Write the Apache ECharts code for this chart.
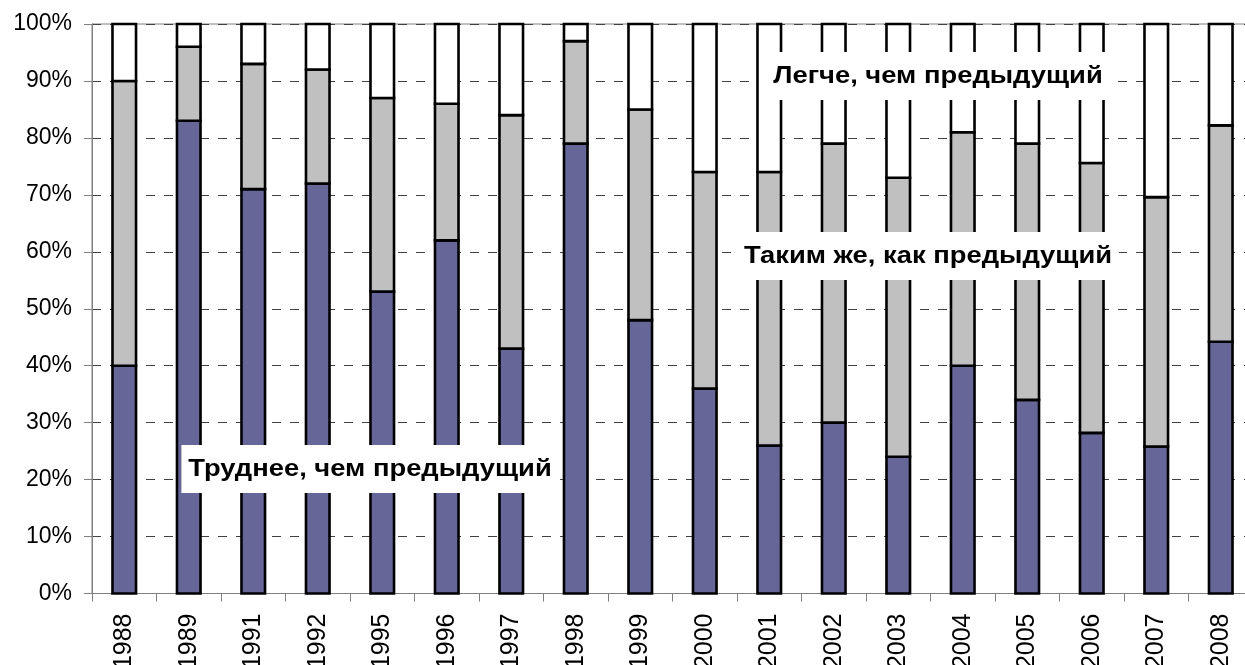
<!DOCTYPE html>
<html>
<head>
<meta charset="utf-8">
<script src="https://cdn.jsdelivr.net/npm/echarts@6/dist/echarts.min.js"></script>
<style>
  html, body { margin: 0; padding: 0; background: #fff; }
  #chart { width: 1245px; height: 665px; }
</style>
</head>
<body>
<div id="chart"></div>
<script>
const years = ['1988','1989','1991','1992','1995','1996','1997','1998','1999','2000','2001','2002','2003','2004','2005','2006','2007','2008'];
const harder = [40, 83, 71, 72, 53, 62, 43, 79, 48, 36, 26, 30, 24, 40, 34, 28.2, 25.8, 44.2];
const same   = [50, 13, 22, 20, 34, 24, 41, 18, 37, 38, 48, 49, 49, 41, 45, 47.4, 43.8, 38];
const easier = [10, 4, 7, 8, 13, 14, 16, 3, 15, 26, 26, 21, 27, 19, 21, 24.4, 30.4, 17.8];
const seriesNames = ['Труднее, чем предыдущий', 'Таким же, как предыдущий', 'Легче, чем предыдущий'];
const seriesColors = ['#666699', '#C0C0C0', '#FFFFFF'];
const yTicks = { min: 0, max: 100, interval: 10 };

const FONT = 'Arial, "Liberation Sans", sans-serif';
const chart = echarts.init(document.getElementById('chart'), null, { renderer: 'canvas' });

const rows = years.map((y, i) => [i, harder[i], same[i], easier[i]]);

function renderStack(params, api) {
  const idx = api.value(0);
  const vals = [api.value(1), api.value(2), api.value(3)];
  const bandW = api.size([1, 0])[0];
  const w = bandW * 0.365;
  const children = [];
  let base = 0;
  for (let k = 0; k < 3; k++) {
    const p0 = api.coord([idx, base]);
    const p1 = api.coord([idx, base + vals[k]]);
    children.push({
      type: 'rect',
      shape: { x: p0[0] - w / 2, y: p1[1], width: w, height: p0[1] - p1[1] },
      style: { fill: seriesColors[k], stroke: '#000', lineWidth: 2.6 }
    });
    base += vals[k];
  }
  return { type: 'group', children: children };
}

function annot(text, x, y) {
  return {
    type: 'text',
    x: x, y: y,
    scaleX: 1.14,
    z: 100,
    style: {
      text: text,
      font: 'bold 24px ' + FONT,
      fill: '#000',
      align: 'center',
      verticalAlign: 'middle',
      backgroundColor: '#fff',
      padding: [12, 6]
    }
  };
}

chart.setOption({
  animation: false,
  backgroundColor: '#fff',
  grid: {
    left: 92, top: 24, width: 1161, height: 569.5,
    outerBoundsMode: 'none', containLabel: false,
    show: true, borderColor: '#808080', borderWidth: 1, backgroundColor: 'transparent'
  },
  xAxis: {
    type: 'category',
    data: years,
    axisLine: { lineStyle: { color: '#808080', width: 1 } },
    axisTick: { show: true, length: 8, alignWithLabel: false, lineStyle: { color: '#808080' } },
    axisLabel: { rotate: 90, margin: 20, color: '#000', fontSize: 25, fontFamily: FONT, interval: 0 },
    splitLine: { show: false }
  },
  yAxis: {
    type: 'value',
    min: yTicks.min, max: yTicks.max, interval: yTicks.interval,
    axisLine: { show: true, lineStyle: { color: '#808080', width: 1 } },
    axisTick: { show: true, length: 8, lineStyle: { color: '#808080' } },
    axisLabel: { formatter: '{value}%', margin: 20, color: '#000', fontSize: 23, fontFamily: FONT },
    splitLine: { show: true, lineStyle: { color: '#404040', type: [9, 9], width: 1 } }
  },
  series: [{
    type: 'custom',
    name: seriesNames.join(' / '),
    renderItem: renderStack,
    data: rows,
    encode: { x: 0, y: [1, 2, 3] },
    z: 2
  }],
  graphic: [
    annot(seriesNames[2], 938, 76),
    annot(seriesNames[1], 928, 256),
    annot(seriesNames[0], 370, 469)
  ]
});
</script>
</body>
</html>
